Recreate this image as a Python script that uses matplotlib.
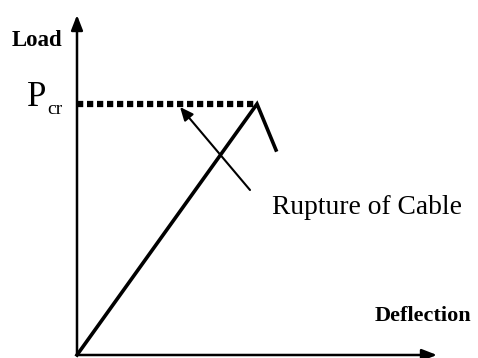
import matplotlib.pyplot as plt

# load-deflection path (arbitrary units)
deflection = [0, 180, 199]
load = [0, 251, 205]

# critical load plateau (dotted)
p_cr = 251
plateau_x = [0, 180]

# axis extents
x_axis_end = 360
y_axis_end = 340

plt.rcParams['font.family'] = ['Liberation Serif', 'DejaVu Serif']

fig = plt.figure(figsize=(4.78, 3.58), dpi=100)
ax = fig.add_axes([0, 0, 1, 1])
ax.set_xlim(-77, 401)
ax.set_ylim(-3, 355)
ax.axis('off')

# axes with arrow heads
arrow = dict(arrowstyle='-|>,head_length=0.9,head_width=0.35', color='black', lw=1.8,
             shrinkA=0, shrinkB=0)
ax.annotate('', xy=(x_axis_end, 0), xytext=(0, 0), arrowprops=arrow)
ax.annotate('', xy=(0, y_axis_end), xytext=(0, 0), arrowprops=arrow)

# dotted Pcr line
ax.plot(plateau_x, [p_cr, p_cr], color='black', lw=4.5, linestyle=(0, (1.0, 0.6)),
        solid_capstyle='butt', dash_capstyle='butt')

# load path
ax.plot(deflection, load, color='black', lw=2.6, solid_joinstyle='miter')

# annotation arrow
ax.annotate('', xy=(103, 248), xytext=(173, 165),
            arrowprops=dict(arrowstyle='-|>,head_length=0.8,head_width=0.35',
                            color='black', lw=1.5, shrinkA=0, shrinkB=0))
ax.text(195, 147, 'Rupture of Cable', fontsize=19.8, ha='left', va='center')

# labels
ax.text(-40, 314, 'Load', fontsize=16.5, fontweight='bold', ha='center', va='center')
ax.text(346, 39, 'Deflection', fontsize=16, fontweight='bold', ha='center', va='center')
ax.text(-50, 258, 'P', fontsize=25, ha='left', va='center')
ax.text(-30, 246, 'cr', fontsize=14, ha='left', va='center')

fig.savefig('out.png', dpi=100)
